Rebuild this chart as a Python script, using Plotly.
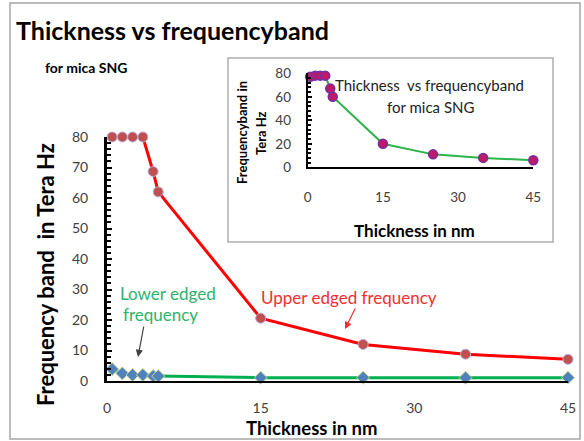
import plotly.graph_objects as go

# Data
thickness = [0.5, 1.5, 2.5, 3.5, 4.5, 5, 15, 25, 35, 45]
upper_freq = [80, 80, 80, 80, 68.7, 62, 20.6, 12, 8.8, 7.1]
lower_freq = [3.9, 2.5, 2, 2, 1.6, 1.6, 1.1, 1.1, 1.1, 1.1]
inset_freq = [77, 78, 78, 78, 67, 60, 20, 11, 8, 6]
x_ticks = [0, 15, 30, 45]
main_y_ticks = [0, 10, 20, 30, 40, 50, 60, 70, 80]
inset_y_ticks = [0, 20, 40, 60, 80]

FONT = "Lato, 'Open Sans', sans-serif"
W, H = 584, 441
L, R, T, B = 107, 16, 50, 60
PW = W - L - R
PH = H - T - B

def px(x):
    return (x - L) / PW

def py(y):
    return (H - B - y) / PH

fig = go.Figure()

fig.add_trace(go.Scatter(
    x=thickness, y=lower_freq, mode="lines+markers",
    line=dict(color="#00B050", width=3),
    marker=dict(symbol="diamond", size=10, color="#4F81BD",
                line=dict(color="#C9D98A", width=1)),
    cliponaxis=False, showlegend=False))
fig.add_trace(go.Scatter(
    x=thickness, y=upper_freq, mode="lines+markers",
    line=dict(color="#FF0000", width=3),
    marker=dict(symbol="circle", size=10, color="#C0504D",
                line=dict(color="#B8B0E0", width=1)),
    cliponaxis=False, showlegend=False))
fig.add_trace(go.Scatter(
    x=thickness, y=inset_freq, mode="lines+markers",
    xaxis="x2", yaxis="y2",
    line=dict(color="#2DB34A", width=2),
    marker=dict(symbol="circle", size=9, color="#C0186A",
                line=dict(color="#7030A0", width=1.5)),
    cliponaxis=False, showlegend=False))

main_top = py(137)
inset_x = [px(307.7), px(533.3)]
inset_y = [py(167.3), py(73.3)]

fig.update_layout(
    width=W, height=H,
    margin=dict(l=L, r=R, t=T, b=B),
    paper_bgcolor="white", plot_bgcolor="rgba(0,0,0,0)",
    font=dict(family=FONT, color="#404040"),
    xaxis=dict(range=[0, 45], tickvals=x_ticks, showgrid=False, zeroline=False,
               showline=True, linecolor="black", linewidth=2,
               ticks="", tickfont=dict(size=14, color="#404040"),
               ticklabelstandoff=13, domain=[0, 1], automargin=False),
    yaxis=dict(range=[0, 80], tickvals=main_y_ticks, showgrid=False, zeroline=False,
               showline=True, linecolor="black", linewidth=3,
               ticks="inside", ticklen=5, tickwidth=2, tickcolor="black",
               minor=dict(dtick=2, ticks="inside", ticklen=4, tickwidth=2, tickcolor="black"),
               tickfont=dict(size=14, color="#404040"),
               ticklabelstandoff=13, domain=[0, main_top], automargin=False),
    xaxis2=dict(range=[0, 45], tickvals=x_ticks, showgrid=False, zeroline=False,
                showline=True, linecolor="black", linewidth=2,
                ticks="", tickfont=dict(size=13.5, color="#404040"),
                ticklabelstandoff=16, domain=inset_x, anchor="y2", automargin=False),
    yaxis2=dict(range=[0, 80], tickvals=inset_y_ticks, showgrid=False, zeroline=False,
                showline=True, linecolor="black", linewidth=2,
                ticks="inside", ticklen=4, tickwidth=1.5, tickcolor="black",
                minor=dict(dtick=4, ticks="inside", ticklen=3, tickwidth=1.5, tickcolor="black"),
                tickfont=dict(size=13.5, color="#404040"),
                ticklabelstandoff=12, domain=inset_y, anchor="x2", automargin=False),
)

# Outer frame and inset box
fig.add_shape(type="rect", xref="paper", yref="paper",
              x0=px(10), x1=px(580), y0=py(439), y1=py(3),
              line=dict(color="#A6A6A6", width=1.5), layer="below")
fig.add_shape(type="rect", xref="paper", yref="paper",
              x0=px(228), x1=px(553), y0=py(242), y1=py(58),
              line=dict(color="#B0B0B0", width=1.5), fillcolor="white", layer="below")

ann = []
ann.append(dict(text="<b>Thickness vs frequencyband</b>", x=px(14), y=py(30),
                xanchor="left", yanchor="middle",
                font=dict(size=25, color="black", family=FONT)))
ann.append(dict(text="<b>for mica SNG</b>", x=px(43), y=py(67),
                xanchor="left", yanchor="middle",
                font=dict(size=14, color="black", family=FONT)))
ann.append(dict(text="<b>Frequency band  in Tera Hz</b>", x=px(45), y=py(275),
                xanchor="center", yanchor="middle", textangle=-90,
                font=dict(size=22, color="black", family=FONT)))
ann.append(dict(text="<b>Thickness in nm</b>", x=px(312), y=py(428),
                xanchor="center", yanchor="middle",
                font=dict(size=18.5, color="black", family=FONT)))
ann.append(dict(text="Lower edged", x=px(118), y=py(293),
                xanchor="left", yanchor="middle",
                font=dict(size=17, color="#2DB36A", family=FONT)))
ann.append(dict(text="frequency", x=px(121), y=py(314),
                xanchor="left", yanchor="middle",
                font=dict(size=17, color="#2DB36A", family=FONT)))
ann.append(dict(text="Upper edged frequency", x=px(349), y=py(297),
                xanchor="center", yanchor="middle",
                font=dict(size=17, color="#F03030", family=FONT)))
ann.append(dict(text="", x=px(138), y=py(357), ax=6, ay=-32,
                showarrow=True, arrowhead=2, arrowsize=1.2, arrowwidth=1.2,
                arrowcolor="#404040"))
ann.append(dict(text="", x=px(345), y=py(329), ax=11, ay=-22,
                showarrow=True, arrowhead=2, arrowsize=1.2, arrowwidth=1.2,
                arrowcolor="#F03030"))
# Inset texts
ann.append(dict(text="Thickness  vs frequencyband", x=px(429), y=py(85),
                xanchor="center", yanchor="middle",
                font=dict(size=15, color="#222222", family=FONT)))
ann.append(dict(text="for mica SNG", x=px(430), y=py(107),
                xanchor="center", yanchor="middle",
                font=dict(size=15, color="#222222", family=FONT)))
ann.append(dict(text="<b>Frequencyband in</b>", x=px(242), y=py(133),
                xanchor="center", yanchor="middle", textangle=-90,
                font=dict(size=13, color="black", family=FONT)))
ann.append(dict(text="<b>Tera Hz</b>", x=px(261), y=py(133),
                xanchor="center", yanchor="middle", textangle=-90,
                font=dict(size=13, color="black", family=FONT)))
ann.append(dict(text="<b>Thickness in nm</b>", x=px(414), y=py(230),
                xanchor="center", yanchor="middle",
                font=dict(size=17, color="black", family=FONT)))

for a in ann:
    a.setdefault("xref", "paper")
    a.setdefault("yref", "paper")
    a.setdefault("showarrow", False)
fig.update_layout(annotations=ann)

fig.write_html("out.html", post_script="document.body.style.margin='0';",
               config={"displayModeBar": False})
